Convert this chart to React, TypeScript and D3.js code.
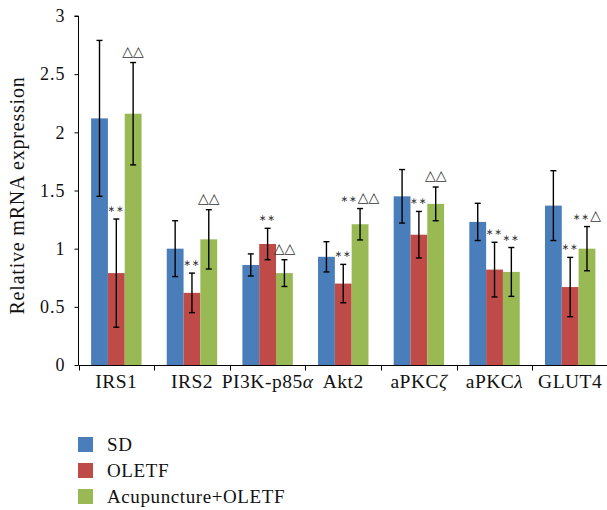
import React, { useRef, useEffect } from "react";
import * as d3 from "d3";

const genes = ["IRS1", "IRS2", "PI3K-p85α", "Akt2", "aPKCζ", "aPKCλ", "GLUT4"];
const groups = ["SD", "OLETF", "Acupuncture+OLETF"];
const colors = ["#4a7ebb", "#be4b48", "#98b954"];

const sdMean = [2.12, 1.0, 0.86, 0.93, 1.45, 1.23, 1.37];
const sdErr = [0.67, 0.24, 0.095, 0.13, 0.23, 0.16, 0.3];
const oletfMean = [0.79, 0.62, 1.04, 0.7, 1.12, 0.82, 0.67];
const oletfErr = [0.465, 0.17, 0.135, 0.165, 0.2, 0.235, 0.255];
const acuMean = [2.16, 1.08, 0.79, 1.21, 1.385, 0.8, 1.0];
const acuErr = [0.44, 0.255, 0.115, 0.135, 0.145, 0.21, 0.19];

// significance marks above the OLETF and Acupuncture bars
const oletfMark = ["**", "**", "**", "**", "**", "**", "**"];
const acuMark = ["△△", "△△", "△△", "**△△", "△△", "**", "**△"];

const yTicks = [0, 0.5, 1, 1.5, 2, 2.5, 3];

const FONT = "Liberation Serif, DejaVu Serif, serif";

function App() {
  const svgRef = useRef(null);

  useEffect(() => {
    const width = 607;
    const height = 510;
    const svg = d3.select(svgRef.current);
    svg.selectAll("*").remove();
    svg.attr("width", width).attr("height", height);

    const means = [sdMean, oletfMean, acuMean];
    const errs = [sdErr, oletfErr, acuErr];
    const marks = [null, oletfMark, acuMark];

    const x = d3.scaleBand().domain(genes).range([78.5, 608]).paddingInner(0).paddingOuter(0);
    const sub = d3.scaleBand().domain(groups).range([0, x.bandwidth()]).paddingInner(0).paddingOuter(0.75);
    const y = d3.scaleLinear().domain([0, 3]).range([365, 16]);

    // bars
    groups.forEach((g, gi) => {
      svg.append("g")
        .selectAll("rect")
        .data(genes)
        .enter()
        .append("rect")
        .attr("x", (d) => x(d) + sub(g))
        .attr("width", sub.bandwidth())
        .attr("y", (_, i) => y(means[gi][i]))
        .attr("height", (_, i) => y(0) - y(means[gi][i]))
        .attr("fill", colors[gi]);
    });

    // error bars
    groups.forEach((g, gi) => {
      const eg = svg.append("g").attr("stroke", "#000").attr("stroke-width", 1.4).attr("fill", "none");
      genes.forEach((d, i) => {
        const cx = x(d) + sub(g) + sub.bandwidth() / 2;
        const hi = y(means[gi][i] + errs[gi][i]);
        const lo = y(means[gi][i] - errs[gi][i]);
        eg.append("line").attr("x1", cx).attr("x2", cx).attr("y1", hi).attr("y2", lo);
        eg.append("line").attr("x1", cx - 3).attr("x2", cx + 3).attr("y1", hi).attr("y2", hi);
        eg.append("line").attr("x1", cx - 3).attr("x2", cx + 3).attr("y1", lo).attr("y2", lo);
      });
    });

    // marks
    groups.forEach((g, gi) => {
      if (!marks[gi]) return;
      genes.forEach((d, i) => {
        const cx = x(d) + sub(g) + sub.bandwidth() / 2;
        const top = y(means[gi][i] + errs[gi][i]);
        const txt = marks[gi][i];
        const t = svg.append("text")
          .attr("x", cx)
          .attr("y", top - 7)
          .attr("text-anchor", "middle")
          .attr("font-family", "DejaVu Sans, sans-serif")
          .attr("fill", "#333");
        const stars = txt.match(/^\**/)[0];
        const tri = txt.slice(stars.length);
        if (stars) t.append("tspan").attr("font-size", 9).attr("letter-spacing", 1).text(stars.replace(/\*/g, "∗"));
        if (tri) t.append("tspan").attr("font-size", 14).text(tri);
      });
    });

    // y axis
    const yAxis = svg.append("g").attr("transform", "translate(78.5,0)")
      .call(d3.axisLeft(y).tickValues(yTicks).tickSize(4).tickPadding(9).tickFormat((d) => String(d)));
    yAxis.select(".domain").attr("stroke", "#000").attr("d", `M-4,${y(3)}H0V${y(0)}`);
    yAxis.attr("font-family", FONT).attr("font-size", 18);
    yAxis.selectAll("text").attr("fill", "#111").attr("letter-spacing", 1);

    // x axis
    const xAxis = svg.append("g").attr("transform", `translate(0,${y(0) + 0.5})`);
    xAxis.append("line").attr("x1", 78.5).attr("x2", 607).attr("stroke", "#000");
    const bounds = genes.map((d) => x(d)).concat([x.range()[1]]);
    xAxis.selectAll("line.tk").data(bounds).enter().append("line")
      .attr("class", "tk")
      .attr("x1", (d) => Math.round(d) + 0.5).attr("x2", (d) => Math.round(d) + 0.5)
      .attr("y1", 0).attr("y2", 5).attr("stroke", "#000");
    genes.forEach((d) => {
      const t = xAxis.append("text")
        .attr("x", x(d) + x.bandwidth() / 2)
        .attr("y", 22.5)
        .attr("text-anchor", "middle")
        .attr("font-family", FONT)
        .attr("font-size", 19.5)
        .attr("letter-spacing", 0.5)
        .attr("fill", "#111");
      const last = d.slice(-1);
      if (/[αζλ]/.test(last)) {
        t.append("tspan").text(d.slice(0, -1));
        t.append("tspan").attr("font-style", "italic").text(last);
      } else {
        t.text(d);
      }
    });

    // y label
    svg.append("text")
      .attr("transform", `translate(24,${(y(0) + y(3)) / 2 + 5}) rotate(-90)`)
      .attr("text-anchor", "middle")
      .attr("font-family", FONT)
      .attr("font-size", 20)
      .attr("letter-spacing", 0.8)
      .attr("fill", "#111")
      .text("Relative mRNA expression");

    // legend
    const lg = svg.append("g").attr("transform", "translate(78,437)");
    groups.forEach((g, gi) => {
      lg.append("rect").attr("x", 0).attr("y", gi * 26).attr("width", 15).attr("height", 15).attr("fill", colors[gi]);
      lg.append("text")
        .attr("x", 29).attr("y", gi * 26 + 13.5)
        .attr("font-family", FONT)
        .attr("font-size", 19)
        .attr("letter-spacing", 0.6)
        .attr("fill", "#111")
        .text(g);
    });
  }, []);

  return <svg ref={svgRef} style={{ position: "absolute", left: 0, top: 0 }}></svg>;
}

export default App;
